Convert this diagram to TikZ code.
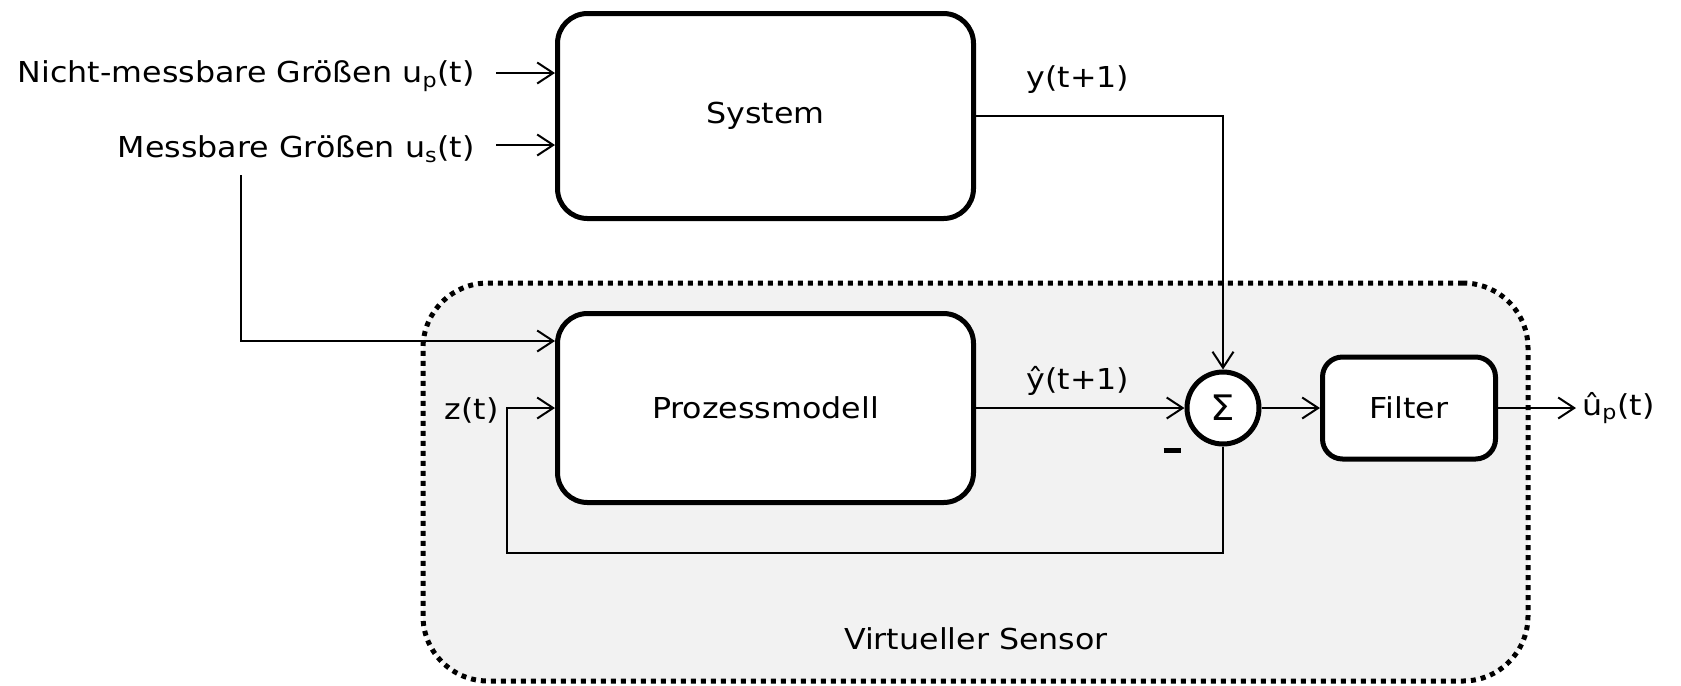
\documentclass[tikz,border=0pt]{standalone}
\usepackage{fontspec}
\setmainfont[FakeStretch=1.1]{DejaVu Sans}
\usepackage{tikz}
\usetikzlibrary{arrows.meta,positioning,calc}
\colorlet{sensorbg}{black!5}

\begin{document}
\begin{tikzpicture}[
    font=\fontsize{16.4}{19}\selectfont,
    block/.style={draw, line width=0.1cm, rounded corners=0.6cm, fill=white, minimum width=8.32cm},
    sig/.style={line width=0.04cm, -{Straight Barb[length=0.32cm,width=0.42cm]}}
  ]
  \useasboundingbox (0,0) rectangle (33.62,-13.70);
  % Virtual sensor frame (dotted, grey)
  \node[draw, fill=sensorbg, line width=0.1cm, dash pattern=on 0.1cm off 0.1cm,
        rounded corners=1.3cm, minimum width=22.1cm, minimum height=7.96cm] (sensor) at (19.51,-9.64) {};
  \node (sensorlbl) at (19.52,-12.78) {Virtueller Sensor};
  % Main blocks
  \node[block, minimum height=4.1cm] (system) at (15.31,-2.32) {System};
  \node[block, minimum height=3.78cm] (prozess) at (15.31,-8.16) {Prozessmodell};
  \node[draw, circle, line width=0.1cm, fill=white, minimum size=1.44cm, inner sep=0pt] (sum) at (24.46,-8.16) {\fontsize{20}{24}\selectfont\raisebox{-0.08cm}{Σ}};
  \node[block, rounded corners=0.4cm, minimum width=3.46cm, minimum height=2.04cm] (filter) at (28.18,-8.16) {Filter};
  % Input labels
  \node[anchor=east] (unm) at (9.62,-1.52) {Nicht-messbare Größen u\textsubscript{p}(t)};
  \node[anchor=east] (um) at (9.62,-2.98) {Messbare Größen u\textsubscript{s}(t)};
  \coordinate (in1) at (9.92,-1.46);
  \coordinate (in2) at (9.92,-2.9);
  \coordinate (umdown) at (4.82,-3.5);
  \coordinate (fb) at (10.14,-11.06);
  % Inputs to the system
  \draw[sig] (in1) -- (in1 -| system.west);
  \draw[sig] (in2) -- (in2 -| system.west);
  % Measured inputs into the model
  \draw[sig] (umdown) |- ($(prozess.west)+(0,1.34)$);
  % Outputs to the sum
  \draw[sig] (system.east) -| (sum.north);
  \node (ylbl) at (21.56,-1.6) {y(t+1)};
  \draw[sig] (prozess.east) -- (sum.west);
  \node (yhlbl) at (21.56,-7.62) {ŷ(t+1)};
  \node (minus) at (23.44,-9.0) {\rule{0.34cm}{0.1cm}};
  % Feedback z(t)
  \draw[sig] (sum.south) |- (fb) |- (prozess.west);
  \node[anchor=east] (zlbl) at (10.1,-8.2) {z(t)};
  % Filter and output
  \draw[sig] (sum.east) -- (filter.west);
  \node[anchor=west] (out) at (31.52,-8.16) {û\textsubscript{p}(t)};
  \draw[sig] (filter.east) -- (out.west);
\end{tikzpicture}
\end{document}
